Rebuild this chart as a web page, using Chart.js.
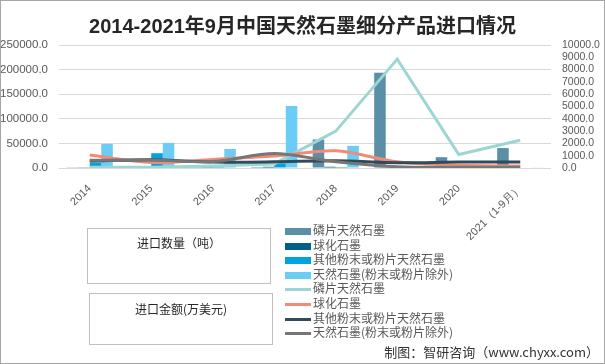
<!DOCTYPE html>
<html>
<head>
<meta charset="utf-8">
<script src="https://cdn.jsdelivr.net/npm/chart.js@4.4.0/dist/chart.umd.min.js"></script>
<style>
  body { margin: 0; background: #fff; }
  #wrap { position: relative; width: 605px; height: 364px; overflow: hidden; font-family: "Liberation Sans", "Noto Sans CJK SC", sans-serif; }
  #chart { position: absolute; left: 0; top: 0; }
  #marco { position: absolute; left: 0; top: 0; width: 605px; height: 364px; box-sizing: border-box; border: 1px solid #a6a6a6; pointer-events: none; }
  #titulo { position: absolute; left: 0; width: 605px; top: 10px; text-align: center; font-size: 20px; font-weight: bold; color: #262626; font-family: "Liberation Sans", "Noto Sans CJK SC", sans-serif; }
  .caja { position: absolute; border: 1px solid #bfbfbf; box-sizing: border-box; text-align: center; font-size: 12px; color: #262626; font-family: "Noto Sans CJK SC", sans-serif; }
  .fila { position: absolute; left: 285px; height: 14px; font-size: 12px; color: #595959; font-family: "Noto Sans CJK SC", sans-serif; white-space: nowrap; }
  .fila span.m { position: absolute; left: 0; width: 26px; }
  .fila span.t { position: absolute; left: 28px; top: -3px; line-height: 14px; }
  #pie { position: absolute; right: 6px; bottom: 3px; font-size: 13px; color: #333; font-family: "Noto Sans CJK SC", sans-serif; }
</style>
</head>
<body>
<div id="wrap">
  <canvas id="chart" width="605" height="364"></canvas>
  <div id="titulo">2014-2021年9月中国天然石墨细分产品进口情况</div>
  <div class="caja" style="left:87px;top:228px;width:184px;height:56px;line-height:28px;">进口数量（吨）</div>
  <div class="caja" style="left:89px;top:293px;width:184px;height:52px;line-height:30px;">进口金额(万美元)</div>
  <div id="leyenda"></div>
  <div id="pie">制图：智研咨询（www.chyxx.com）</div>
  <div id="marco"></div>
</div>
<script>
const years = ["2014", "2015", "2016", "2017", "2018", "2019", "2020", "2021（1-9月）"];
const seriesNames = ["磷片天然石墨", "球化石墨", "其他粉末或粉片天然石墨", "天然石墨(粉末或粉片除外)"];

// 进口数量（吨）
const qtyFlake = [1500, 1500, 1500, 2000, 58000, 193500, 22000, 40500];
const qtySpherical = [1500, 2000, 2000, 2500, 2500, 2000, 1500, 1000];
const qtyPowder = [11000, 30000, 6000, 9500, 2000, 1500, 1000, 1000];
const qtyOther = [49000, 51000, 38600, 126000, 45000, 1500, 1000, 800];

// 进口金额（万美元）
const valFlake = [60, 60, 160, 330, 3000, 8850, 1100, 2260];
const valSpherical = [1050, 450, 700, 970, 1400, 500, 220, 160];
const valPowder = [560, 680, 480, 500, 590, 430, 480, 480];
const valOther = [620, 650, 520, 1180, 500, 100, 60, 60];

const leftTicks = { min: 0, max: 250000, step: 50000 };
const rightTicks = { min: 0, max: 10000, step: 1000 };

const barColors = ["#5b8fa8", "#006088", "#00a3dc", "#6bcdf5"];
const lineColors = ["#9cd6d2", "#ef8b76", "#2f4b5c", "#777777"];

const qtyData = [qtyFlake, qtySpherical, qtyPowder, qtyOther];
const valData = [valFlake, valSpherical, valPowder, valOther];

const datasets = [];
qtyData.forEach((d, i) => {
  datasets.push({
    type: "bar",
    label: seriesNames[i],
    data: d,
    backgroundColor: barColors[i],
    yAxisID: "y",
    categoryPercentage: 0.75,
    barPercentage: 1.0,
    order: 10 + i
  });
});
valData.forEach((d, i) => {
  datasets.push({
    type: "line",
    label: seriesNames[i],
    data: d,
    borderColor: lineColors[i],
    backgroundColor: lineColors[i],
    borderWidth: 3,
    pointRadius: 0,
    tension: i === 0 ? 0 : 0.3,
    yAxisID: "y1",
    order: 4 - i
  });
});

const tickFont = { family: "Liberation Sans", size: 11 };

new Chart(document.getElementById("chart"), {
  data: { labels: years, datasets },
  options: {
    responsive: false,
    animation: false,
    devicePixelRatio: 1,
    layout: { padding: { top: 45, left: 0, right: 0, bottom: 0 } },
    plugins: { legend: { display: false }, title: { display: false }, tooltip: { enabled: false } },
    scales: {
      x: {
        grid: { display: false },
        border: { display: false },
        ticks: { color: "#595959", font: tickFont, maxRotation: 45, minRotation: 45, padding: 6, autoSkip: false },
        afterFit: s => { s.height = 196; }
      },
      y: {
        position: "left",
        min: leftTicks.min,
        max: leftTicks.max,
        grid: { color: "#d9d9d9", drawTicks: false },
        border: { display: false },
        ticks: { stepSize: leftTicks.step, color: "#595959", font: { family: "Liberation Sans", size: 11.5 }, padding: 11, callback: v => v.toFixed(1) },
        afterFit: s => { s.width = 59; }
      },
      y1: {
        position: "right",
        min: rightTicks.min,
        max: rightTicks.max,
        grid: { display: false, drawTicks: false },
        border: { display: false },
        ticks: { stepSize: rightTicks.step, color: "#595959", font: { family: "Liberation Sans", size: 10.5 }, padding: 11, autoSkip: false, callback: v => v.toFixed(1) },
        afterFit: s => { s.width = 54; }
      }
    }
  }
});

// Leyenda
const leyenda = document.getElementById("leyenda");
const filas = [];
seriesNames.forEach((n, i) => filas.push({ name: n, color: barColors[i], bar: true }));
seriesNames.forEach((n, i) => filas.push({ name: n, color: lineColors[i], bar: false }));
filas.forEach((f, i) => {
  const div = document.createElement("div");
  div.className = "fila";
  div.style.top = (226 + i * 14.6) + "px";
  const m = document.createElement("span");
  m.className = "m";
  m.style.background = f.color;
  m.style.height = f.bar ? "7px" : "3px";
  m.style.top = f.bar ? "2px" : "4px";
  const t = document.createElement("span");
  t.className = "t";
  t.textContent = f.name;
  div.appendChild(m);
  div.appendChild(t);
  leyenda.appendChild(div);
});
</script>
</body>
</html>
